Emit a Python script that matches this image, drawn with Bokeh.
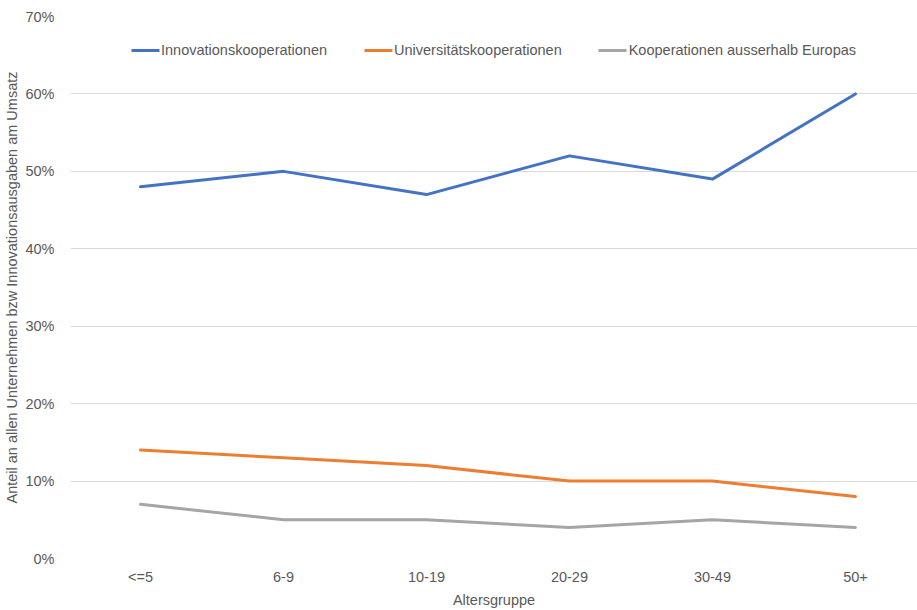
from bokeh.plotting import figure
from bokeh.models import Range1d, FixedTicker, PrintfTickFormatter, Legend, LegendItem
from bokeh.embed import file_html
from bokeh.resources import INLINE

categories = ["<=5", "6-9", "10-19", "20-29", "30-49", "50+"]
innovation = [48, 50, 47, 52, 49, 60]
university = [14, 13, 12, 10, 10, 8]
outside_europe = [7, 5, 5, 4, 5, 4]
y_ticks = [0, 10, 20, 30, 40, 50, 60, 70]

series_names = ["Innovationskooperationen", "Universitätskooperationen", "Kooperationen ausserhalb Europas"]
colors = ["#4472C4", "#ED7D31", "#A5A5A5"]

FONT = "Liberation Sans"
TXT = "#595959"
FS = "14.5px"

x_pos = list(range(len(categories)))

p = figure(width=917, height=610, output_backend="svg", toolbar_location=None,
           x_range=Range1d(-0.4895, 5.434), y_range=Range1d(0, 70),
           min_border_left=70, min_border_right=0, min_border_top=16, min_border_bottom=51)
p.outline_line_color = None
p.background_fill_color = "white"
p.border_fill_color = "white"

renderers = []
for vals, c in zip([innovation, university, outside_europe], colors):
    r = p.line(x_pos, vals, line_color=c, line_width=3, line_join="round", line_cap="round")
    renderers.append(r)

p.xgrid.grid_line_color = None
p.ygrid.grid_line_color = "#D9D9D9"
p.ygrid.grid_line_width = 1
p.yaxis.ticker = FixedTicker(ticks=y_ticks)
p.yaxis.formatter = PrintfTickFormatter(format="%d%%")
p.xaxis.ticker = FixedTicker(ticks=x_pos)
p.xaxis.major_label_overrides = {i: c for i, c in zip(x_pos, categories)}

for ax in (p.xaxis[0], p.yaxis[0]):
    ax.axis_line_color = None
    ax.major_tick_line_color = None
    ax.minor_tick_line_color = None
    ax.major_label_text_font = FONT
    ax.major_label_text_font_size = FS
    ax.major_label_text_color = TXT
    ax.axis_label_text_font = FONT
    ax.axis_label_text_font_size = FS
    ax.axis_label_text_color = TXT
    ax.axis_label_text_font_style = "normal"

p.yaxis.major_label_standoff = 10
p.yaxis.axis_label = "Anteil an allen Unternehmen bzw Innovationsausgaben am Umsatz"
p.yaxis.axis_label_standoff = 2
p.xaxis.major_label_standoff = 4
p.xaxis.axis_label = "Altersgruppe"
p.xaxis.axis_label_standoff = 4

legend = Legend(items=[LegendItem(label=n, renderers=[r]) for n, r in zip(series_names, renderers)],
                orientation="horizontal", location="top_center", margin=24, padding=0,
                spacing=37, glyph_width=28, glyph_height=20, label_height=20, label_standoff=2,
                border_line_color=None, background_fill_alpha=0,
                label_text_font=FONT, label_text_font_size=FS, label_text_color=TXT)
p.add_layout(legend)

open("out.html", "w").write(file_html(p, INLINE))
